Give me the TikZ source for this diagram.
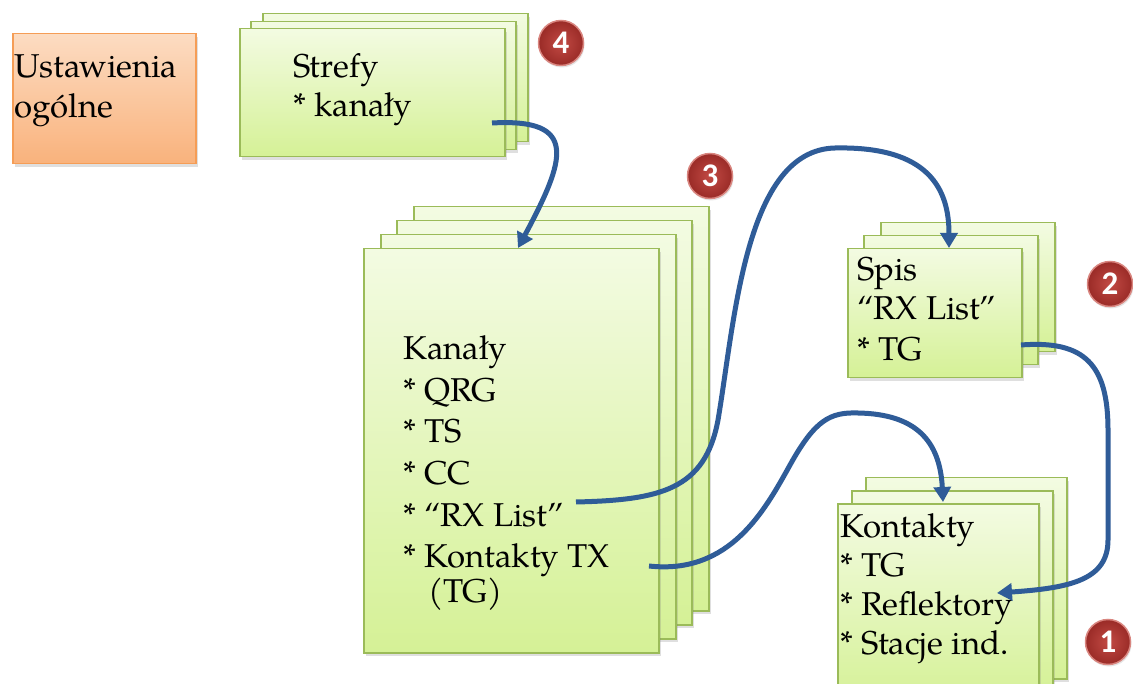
\documentclass[tikz,border=0pt]{standalone}
\usepackage{fontspec}
\setmainfont{TeX Gyre Pagella}
\newfontfamily\badgefont{Carlito}
\usetikzlibrary{arrows.meta,shadows}
\definecolor{gtop}{HTML}{F3FBE2}
\definecolor{gbot}{HTML}{D5F196}
\definecolor{gline}{HTML}{9BBB59}
\definecolor{otop}{HTML}{FCDCC2}
\definecolor{obot}{HTML}{F9B27C}
\definecolor{oline}{HTML}{F59D56}
\definecolor{arr}{HTML}{2F5C98}
\definecolor{badgein}{HTML}{C24A44}
\definecolor{badgeout}{HTML}{9A2B27}
\definecolor{badgeline}{HTML}{D98680}
\tikzset{
  gbox/.style={draw=gline, line width=1.5pt, top color=gtop, bottom color=gbot,
    inner sep=0pt, anchor=north west,
    drop shadow={opacity=0.25, shadow xshift=2pt, shadow yshift=-3pt}},
  obox/.style={draw=oline, line width=1.5pt, top color=otop, bottom color=obot,
    inner sep=0pt, anchor=north west,
    drop shadow={opacity=0.25, shadow xshift=2pt, shadow yshift=-3pt}},
  txt/.style={anchor=base west, inner sep=0pt, font=\fontsize{33}{40}\selectfont},
  badgec/.style={circle, inner color=badgein, outer color=badgeout, draw=badgeline,
    line width=1.5pt, minimum size=45pt, inner sep=0pt, text=white,
    drop shadow={opacity=0.2, shadow xshift=1pt, shadow yshift=-2pt},
    font=\badgefont\bfseries\fontsize{33}{33}\selectfont},
  link/.style={draw=arr, line width=5pt, -{Triangle[length=15pt,width=17pt]}}
}
\begin{document}
\begin{tikzpicture}[x=1pt,y=1pt]
\useasboundingbox (0,0) rectangle (1133,-684);
\clip (0,0) rectangle (1133,-684);
\fill[white] (0,0) rectangle (1133,-684);

% Ustawienia ogolne
\node[obox, minimum width=183pt, minimum height=130pt] (ust) at (12,-33) {};
\node[txt] (ust1) at (14,-78) {Ustawienia};
\node[txt] (ust2) at (14,-118) {ogólne};

% Strefy stack
\node[gbox, minimum width=265pt, minimum height=128pt] (str3) at (262,-13) {};
\node[gbox, minimum width=265pt, minimum height=128pt] (str2) at (250,-21) {};
\node[gbox, minimum width=265pt, minimum height=128pt] (str1) at (239,-28) {};
\node[txt] (strt1) at (293,-78) {Strefy};
\node[txt] (strt2) at (293,-117) {* kanały};

% Kanaly stack
\node[gbox, minimum width=295pt, minimum height=404pt] (kan4) at (413,-206) {};
\node[gbox, minimum width=295pt, minimum height=404pt] (kan3) at (396,-220) {};
\node[gbox, minimum width=295pt, minimum height=404pt] (kan2) at (380,-234) {};
\node[gbox, minimum width=295pt, minimum height=404pt] (kan1) at (363,-248) {};
\node[txt] (kt1) at (403,-360) {Kanały};
\node[txt] (kt2) at (403,-401.5) {* QRG};
\node[txt] (kt3) at (403,-443) {* TS};
\node[txt] (kt4) at (403,-484.5) {* CC};
\node[txt] (kt5) at (403,-526) {* ``RX List''};
\node[txt] (kt6) at (403,-567.5) {* Kontakty TX};
\node[txt] (kt7) at (428,-602) {(TG)};

% Spis stack
\node[gbox, minimum width=174pt, minimum height=129pt] (spis3) at (880,-222) {};
\node[gbox, minimum width=174pt, minimum height=129pt] (spis2) at (863,-235) {};
\node[gbox, minimum width=174pt, minimum height=129pt] (spis1) at (847,-248) {};
\node[txt] (st1) at (857,-281) {Spis};
\node[txt] (st2) at (857,-320) {``RX List''};
\node[txt] (st3) at (857,-361) {* TG};

% Kontakty stack
\node[gbox, minimum width=201pt, minimum height=201pt] (kon3) at (865,-477) {};
\node[gbox, minimum width=201pt, minimum height=201pt] (kon2) at (851,-490) {};
\node[gbox, minimum width=201pt, minimum height=201pt] (kon1) at (837,-503) {};
\node[txt] (kot1) at (840,-537) {Kontakty};
\node[txt] (kot2) at (840,-576) {* TG};
\node[txt] (kot3) at (840,-615) {* Reflektory};
\node[txt] (kot4) at (840,-654) {* Stacje ind.};

% badges
\node[badgec] (b4) at (561,-43) {4};
\node[badgec] (b3) at (710,-176) {3};
\node[badgec] (b2) at (1110,-284) {2};
\node[badgec] (b1) at (1108,-642) {1};

% connector end points
\coordinate (sStr) at (492,-123);
\coordinate (tKan) at (518,-248);
\coordinate (sRx) at (576,-502);
\coordinate (tSpis) at (949,-248);
\coordinate (sTx) at (649,-566);
\coordinate (tKon) at (943,-502);
\coordinate (sTg) at (1021,-345);
\coordinate (tRef) at (997,-593);

\draw[link] (sStr) .. controls (580,-118) and (565,-160) .. (tKan);
\draw[link] (sRx) .. controls (660,-500) and (705,-490) .. (718,-420)
  .. controls (735,-320) and (745,-150) .. (835,-148)
  .. controls (930,-146) and (949,-190) .. (tSpis);
\draw[link] (sTx) .. controls (730,-575) and (765,-510) .. (790,-465)
  .. controls (815,-420) and (830,-412) .. (858,-413)
  .. controls (915,-414) and (940,-440) .. (tKon);
\draw[link] (sTg) .. controls (1085,-340) and (1108,-365) .. (1108,-430)
  -- (1108,-540) .. controls (1108,-580) and (1070,-588) .. (tRef);
\end{tikzpicture}
\end{document}
